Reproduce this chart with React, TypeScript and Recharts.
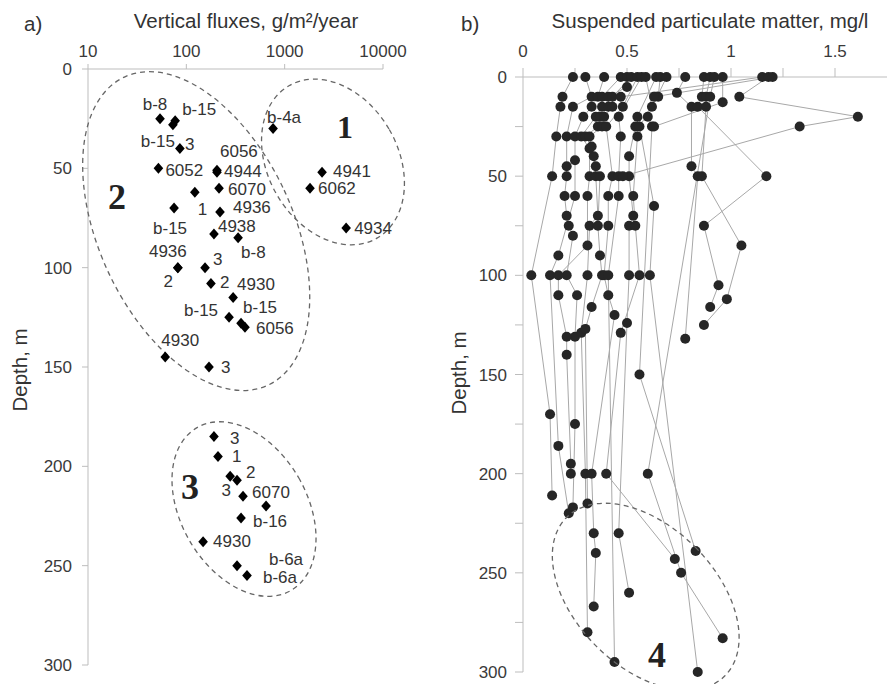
import React from 'react';
import { ScatterChart, Scatter, XAxis, YAxis, ReferenceDot } from 'recharts';

const FONT = '"Liberation Sans", Arial, Helvetica, sans-serif';
const SERIF = '"Liberation Serif", "Times New Roman", serif';
const AXIS = '#bdbdbd';
const TICK = { fontSize: 17, fill: '#3a3a3a', fontFamily: FONT };

// ---------- Panel a: vertical fluxes ----------
const fluxLabels = ['b-8', 'b-15', 'b-15', '3', '6052', '4944', '6056', '6070', '1', 'b-15', '4936', '4938', 'b-8', '4936', '2', '3', '2', '4930', 'b-15', 'b-15', '6056', '4930', '3', 'b-4a', '4941', '6062', '4934', '3', '1', '', '2', '3', '6070', 'b-16', '4930', 'b-6a', 'b-6a'];
const fluxValues = [54, 77, 73, 86, 52, 205, 205, 215, 122, 75, 220, 191, 336, 82, 82, 155, 178, 299, 272, 360, 395, 61, 170, 762, 2400, 1810, 4220, 191, 210, 279, 328, 377, 647, 360, 148, 328, 414];
const fluxDepths = [25, 26, 28, 40, 50, 52, 51, 60, 62, 70, 72, 83, 85, 100, 100, 100, 108, 115, 125, 128, 130, 145, 150, 30, 52, 60, 80, 185, 195, 205, 207, 215, 220, 226, 238, 250, 255];
const fluxTicks = [10, 100, 1000, 10000];
const depthTicksA = [0, 50, 100, 150, 200, 250, 300];

// label placement (style): [dx, dy, anchor]
const labelOffsets: [number, number, string][] = [
  [-5, -9, 'middle'], [7, -6, 'start'], [2, 22, 'end'], [5, 2, 'start'], [7, 8, 'start'],
  [7, 5, 'start'], [3, -13, 'start'], [9, 7, 'start'], [3, 23, 'start'], [-4, 26, 'middle'],
  [13, 1, 'start'], [4, -2, 'start'], [3, 20, 'start'], [-10, -11, 'middle'], [-5, 19, 'end'],
  [8, -3, 'start'], [9, 4, 'start'], [4, -7, 'start'], [-11, -1, 'end'], [2, -10, 'start'],
  [11, 7, 'start'], [15, -11, 'middle'], [12, 6, 'start'], [-6, -6, 'start'], [11, 5, 'start'],
  [8, 6, 'start'], [8, 6, 'start'], [16, 7, 'start'], [14, 6, 'start'], [0, 0, 'start'],
  [9, -2, 'start'], [-12, 0, 'end'], [-14, -8, 'start'], [12, 9, 'start'], [10, 5, 'start'],
  [32, -1, 'start'], [16, 7, 'start'],
];

const fluxData = fluxValues.map((x, i) => ({ x, d: fluxDepths[i], label: fluxLabels[i], idx: i }));

// ---------- Panel b: suspended particulate matter profiles [depth, mg/l] ----------
const st01: [number, number][] = [[0, 0.24], [10, 0.19], [15, 0.18], [30, 0.16], [50, 0.14], [100, 0.04], [170, 0.13], [211, 0.14]];
const st02: [number, number][] = [[0, 0.30], [10, 0.33], [15, 0.24], [30, 0.21], [45, 0.21], [50, 0.21], [60, 0.20], [70, 0.21], [75, 0.22], [80, 0.24], [100, 0.21], [110, 0.26], [131, 0.25], [175, 0.25], [217, 0.24]];
const st03: [number, number][] = [[0, 0.39], [10, 0.36], [15, 0.33], [20, 0.29], [30, 0.25], [42, 0.25], [60, 0.25], [90, 0.17], [100, 0.13], [186, 0.17], [220, 0.22]];
const st04: [number, number][] = [[0, 0.47], [10, 0.38], [15, 0.38], [20, 0.35], [30, 0.28], [36, 0.32], [50, 0.32], [60, 0.31], [85, 0.31], [100, 0.17], [110, 0.17], [131, 0.21], [140, 0.21], [195, 0.23], [200, 0.23]];
const st05: [number, number][] = [[0, 0.50], [5, 0.50], [10, 0.41], [15, 0.41], [20, 0.37], [25, 0.36], [30, 0.30], [35, 0.33], [40, 0.34], [50, 0.35], [70, 0.36], [75, 0.32], [100, 0.31], [129, 0.28], [200, 0.30], [280, 0.31]];
const st06: [number, number][] = [[0, 0.52], [10, 0.43], [15, 0.43], [20, 0.39], [25, 0.38], [30, 0.32], [45, 0.35], [50, 0.37], [75, 0.36], [90, 0.37], [100, 0.38], [116, 0.33], [127, 0.30], [215, 0.31]];
const st07: [number, number][] = [[0, 0.55], [15, 0.48], [25, 0.40], [50, 0.43], [60, 0.41], [75, 0.41], [100, 0.39], [110, 0.41], [120, 0.44], [200, 0.33], [230, 0.34], [240, 0.35], [267, 0.34]];
const st08: [number, number][] = [[0, 0.57], [20, 0.46], [30, 0.47], [50, 0.46], [60, 0.46], [100, 0.41], [295, 0.44]];
const st09: [number, number][] = [[0, 0.59], [15, 0.62], [25, 0.54], [40, 0.51], [50, 0.51], [70, 0.53], [75, 0.51], [100, 0.51], [124, 0.50], [230, 0.46], [260, 0.51]];
const st10: [number, number][] = [[0, 0.64], [20, 0.55], [30, 0.55], [60, 0.53], [75, 0.54], [100, 0.56], [129, 0.47], [200, 0.40], [243, 0.73]];
const st11: [number, number][] = [[0, 0.66], [10, 0.65], [25, 0.56], [65, 0.63], [100, 0.61], [300, 0.84]];
const st12: [number, number][] = [[0, 0.69], [20, 0.60], [25, 0.62], [150, 0.56], [239, 0.83]];
const st13: [number, number][] = [[0, 0.78], [8, 0.74], [15, 0.81], [45, 0.81], [50, 0.84], [132, 0.78]];
const st14: [number, number][] = [[0, 0.87], [10, 0.86], [15, 0.84], [50, 1.17], [75, 0.87], [105, 0.94], [116, 0.90]];
const st15: [number, number][] = [[0, 0.90], [10, 0.88], [15, 0.88], [50, 0.86], [85, 1.05], [112, 0.98], [125, 0.87]];
const st16: [number, number][] = [[0, 0.92], [10, 0.90], [200, 0.60], [250, 0.76], [283, 0.96]];
const st17: [number, number][] = [[0, 0.96], [12.7, 0.96], [25, 0.63]];
const st18: [number, number][] = [[0, 1.15], [10, 0.47]];
const st19: [number, number][] = [[0, 1.18], [10, 1.04], [20, 1.61], [25, 1.33], [50, 0.48]];
const st20: [number, number][] = [[0, 1.20], [10, 0.63]];
const stations = [st01, st02, st03, st04, st05, st06, st07, st08, st09, st10, st11, st12, st13, st14, st15, st16, st17, st18, st19, st20];
const spmTicks = [0, 0.25, 0.5, 0.75, 1, 1.25, 1.5];
const depthTicksB = [0, 25, 50, 75, 100, 125, 150, 175, 200, 225, 250, 275, 300];

const stationData = stations.map((s) => s.map(([d, v]) => ({ v, d })));
const allSpm = stationData.flat();

// ---------- shapes ----------
function Diamond(props: any) {
  const { cx, cy, payload } = props;
  if (cx == null || cy == null) return null;
  const off = labelOffsets[payload.idx];
  return (
    <g>
      <polygon points={`${cx},${cy - 5.5} ${cx + 4.8},${cy} ${cx},${cy + 5.5} ${cx - 4.8},${cy}`} fill="#000" />
      {payload.label ? (
        <text x={cx + off[0]} y={cy + off[1]} textAnchor={off[2] as any} fontSize={17} fill="#333" fontFamily={FONT}>
          {payload.label}
        </text>
      ) : null}
    </g>
  );
}

function SpmDot(props: any) {
  const { cx, cy } = props;
  if (cx == null || cy == null) return null;
  return <circle cx={cx} cy={cy} r={5} fill="#262626" />;
}

const NoDot = () => <g />;

const ellipseShape = (rx: number, ry: number, rot: number) => (p: any) => (
  <ellipse cx={p.cx} cy={p.cy} rx={rx} ry={ry} transform={`rotate(${rot} ${p.cx} ${p.cy})`} fill="none" stroke="#666" strokeWidth={1.3} strokeDasharray="5 4" />
);

const bigNumber = (txt: string, size: number) => (p: any) => (
  <text x={p.cx} y={p.cy} textAnchor="middle" dominantBaseline="central" fontFamily={SERIF} fontWeight="bold" fontSize={size} fill="#222">
    {txt}
  </text>
);

const fmtSpm = (v: number) => (v % 0.5 === 0 ? String(v) : '');
const fmtDepthB = (v: number) => (v % 50 === 0 ? String(v) : '');

export default function App() {
  return (
    <div style={{ position: 'absolute', left: 0, top: 0, width: 887, height: 684, background: '#fff', fontFamily: FONT }}>
      <div style={{ position: 'absolute', left: 0, top: 0 }}>
        <ScatterChart width={470} height={684} margin={{ top: 39, right: 87, bottom: 19, left: 28 }}>
          <XAxis
            type="number"
            dataKey="x"
            scale="log"
            domain={[10, 10000]}
            ticks={fluxTicks}
            orientation="top"
            height={30}
            interval={0}
            axisLine={{ stroke: AXIS }}
            tickLine={{ stroke: AXIS }}
            tickSize={5}
            tickMargin={7}
            tick={TICK}
          />
          <YAxis
            type="number"
            dataKey="d"
            reversed
            domain={[0, 300]}
            ticks={depthTicksA}
            width={60}
            interval={0}
            axisLine={{ stroke: AXIS }}
            tickLine={{ stroke: AXIS }}
            tickSize={6}
            tickMargin={10}
            tick={TICK}
          />
          <ReferenceDot x={3100} y={46.8} ifOverflow="visible" shape={ellipseShape(65, 88, -30)} />
          <ReferenceDot x={126} y={81.6} ifOverflow="visible" shape={ellipseShape(97, 170, -25)} />
          <ReferenceDot x={386} y={221.5} ifOverflow="visible" shape={ellipseShape(63, 94, -30)} />
          <Scatter data={fluxData} shape={Diamond} isAnimationActive={false} />
          <ReferenceDot x={4110} y={29} ifOverflow="visible" shape={bigNumber('1', 32)} />
          <ReferenceDot x={19.7} y={64.5} ifOverflow="visible" shape={bigNumber('2', 36)} />
          <ReferenceDot x={109} y={210.5} ifOverflow="visible" shape={bigNumber('3', 36)} />
        </ScatterChart>
      </div>
      <div style={{ position: 'absolute', left: 440, top: 0 }}>
        <ScatterChart width={447} height={684} margin={{ top: 39, right: 0, bottom: 12, left: 28 }}>
          <XAxis
            type="number"
            dataKey="v"
            domain={[0, 1.75]}
            ticks={spmTicks}
            tickFormatter={fmtSpm}
            orientation="top"
            height={38}
            interval={0}
            axisLine={{ stroke: AXIS }}
            tickLine={{ stroke: AXIS }}
            tickSize={9}
            tickMargin={11}
            tick={TICK}
          />
          <YAxis
            type="number"
            dataKey="d"
            reversed
            domain={[0, 300]}
            ticks={depthTicksB}
            tickFormatter={fmtDepthB}
            width={55}
            interval={0}
            axisLine={{ stroke: AXIS }}
            tickLine={{ stroke: AXIS }}
            tickSize={8}
            tickMargin={8}
            tick={TICK}
          />
          {stationData.map((s, i) => (
            <Scatter key={i} data={s} line={{ stroke: '#a8a8a8', strokeWidth: 1 }} lineType="joint" shape={NoDot} isAnimationActive={false} />
          ))}
          <Scatter data={allSpm} shape={SpmDot} isAnimationActive={false} />
          <ReferenceDot x={0.59} y={262} ifOverflow="visible" shape={ellipseShape(70, 112, -45)} />
          <ReferenceDot x={0.644} y={291.5} ifOverflow="visible" shape={bigNumber('4', 36)} />
        </ScatterChart>
      </div>
      <svg width={887} height={684} style={{ position: 'absolute', left: 0, top: 0, pointerEvents: 'none' }}>
        <g fontFamily={FONT} fill="#333" fontSize={20.5}>
          <text x={24} y={31}>a)</text>
          <text x={246} y={28} textAnchor="middle">Vertical fluxes, g/m²/year</text>
          <text x={461} y={31}>b)</text>
          <text x={710} y={28} textAnchor="middle">Suspended particulate matter, mg/l</text>
          <text transform="translate(27,370) rotate(-90)" textAnchor="middle">Depth, m</text>
          <text transform="translate(466,373) rotate(-90)" textAnchor="middle">Depth, m</text>
        </g>
      </svg>
    </div>
  );
}
